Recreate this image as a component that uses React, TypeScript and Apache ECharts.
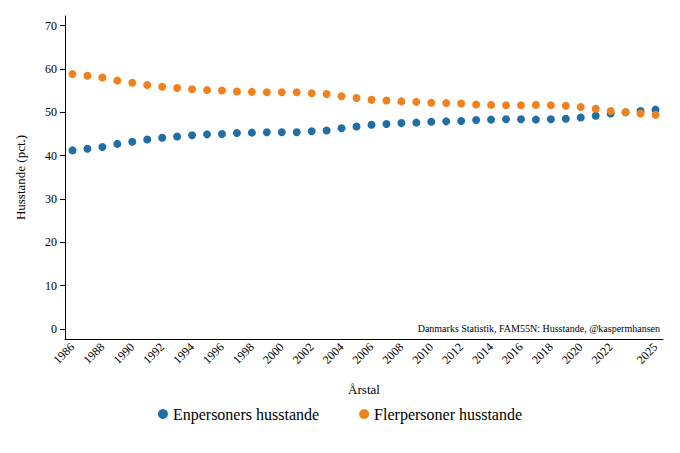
import { useEffect, useRef } from "react";
import * as echarts from "echarts";

const years = Array.from({ length: 40 }, (_, i) => String(1986 + i));
const enpersoner = [
  41.2, 41.6, 42.0, 42.7, 43.2, 43.7, 44.1, 44.4, 44.7, 44.9, 45.0, 45.2, 45.3, 45.4, 45.4, 45.4,
  45.6, 45.8, 46.3, 46.7, 47.1, 47.3, 47.5, 47.6, 47.8, 47.9, 48.0, 48.2, 48.3, 48.4, 48.4, 48.3,
  48.4, 48.5, 48.8, 49.2, 49.7, 50.0, 50.3, 50.6,
];
const flerpersoner = [
  58.8, 58.4, 58.0, 57.3, 56.8, 56.3, 55.9, 55.6, 55.3, 55.1, 55.0, 54.8, 54.7, 54.6, 54.6, 54.6,
  54.4, 54.2, 53.7, 53.3, 52.9, 52.7, 52.5, 52.4, 52.2, 52.1, 52.0, 51.8, 51.7, 51.6, 51.6, 51.7,
  51.6, 51.5, 51.2, 50.8, 50.3, 50.0, 49.7, 49.4,
];
const yTicks = [0, 10, 20, 30, 40, 50, 60, 70];

const FONT = "Liberation Serif";

export default function App() {
  const ref = useRef<HTMLDivElement>(null);

  useEffect(() => {
    if (!ref.current) return;
    const chart = echarts.init(ref.current, null, { renderer: "svg" });
    const showIdx = (i: number) => i % 2 === 0 || i === years.length - 1;
    chart.setOption({
      animation: false,
      textStyle: { fontFamily: FONT, color: "#000" },
      grid: { left: 65, right: 17, top: 16, bottom: 114 },
      xAxis: {
        type: "category",
        data: years,
        name: "Årstal",
        nameLocation: "middle",
        nameGap: 44,
        nameTextStyle: { fontFamily: FONT, fontSize: 13, color: "#000" },
        axisLine: { onZero: false, lineStyle: { color: "#000" } },
        axisTick: { alignWithLabel: true, interval: (i: number) => showIdx(i), lineStyle: { color: "#000" } },
        axisLabel: {
          interval: (i: number) => showIdx(i),
          hideOverlap: false,
          showMaxLabel: true,
          rotate: 45,
          fontFamily: FONT,
          fontSize: 12,
          color: "#000",
          margin: 6,
        },
        splitLine: { show: false },
      },
      yAxis: {
        type: "value",
        min: -2.3,
        max: 72.2,
        name: "Husstande (pct.)",
        nameLocation: "middle",
        nameGap: 38,
        nameTextStyle: { fontFamily: FONT, fontSize: 13, color: "#000" },
        axisLine: { show: true, lineStyle: { color: "#000" } },
        axisTick: { show: true, customValues: yTicks, lineStyle: { color: "#000" } },
        axisLabel: { customValues: yTicks, fontFamily: FONT, fontSize: 12, color: "#000" },
        splitLine: { show: false },
      },
      legend: {
        bottom: 26,
        left: "center",
        itemGap: 40,
        icon: "circle",
        itemWidth: 10,
        itemHeight: 10,
        textStyle: { fontFamily: FONT, fontSize: 16, color: "#000" },
      },
      graphic: [
        {
          type: "text",
          right: 20,
          top: 323,
          style: {
            text: "Danmarks Statistik, FAM55N: Husstande, @kaspermhansen",
            fontFamily: FONT,
            fontSize: 10,
            fill: "#000",
          },
        },
      ],
      series: [
        {
          name: "Enpersoners husstande",
          type: "scatter",
          data: enpersoner,
          symbolSize: 8,
          itemStyle: { color: "#1f6ea6", opacity: 1 },
        },
        {
          name: "Flerpersoner husstande",
          type: "scatter",
          data: flerpersoner,
          symbolSize: 8,
          itemStyle: { color: "#f0821e", opacity: 1 },
        },
      ],
    });
    return () => chart.dispose();
  }, []);

  return <div ref={ref} style={{ width: 680, height: 453, position: "absolute", left: 0, top: 0 }} />;
}
